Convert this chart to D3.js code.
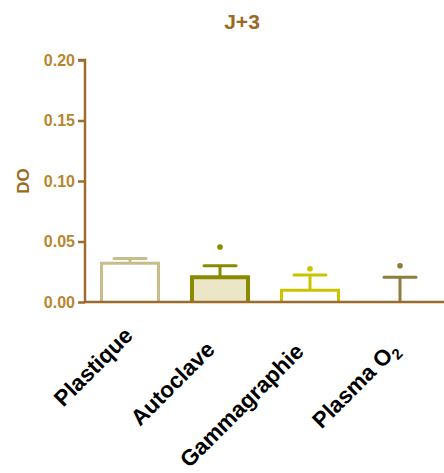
<!DOCTYPE html>
<html>
<head>
<meta charset="utf-8">
<script src="https://cdn.jsdelivr.net/npm/d3@7"></script>
<style>
  html, body { margin: 0; padding: 0; background: #fff; }
  svg { display: block; font-family: "Liberation Sans", Arial, sans-serif; }
</style>
</head>
<body>
<svg id="chart" width="444" height="473"></svg>
<script>
// ---- data ----
const categories = ["Plastique", "Autoclave", "Gammagraphie", "Plasma O2"];
const means      = [0.032, 0.0205, 0.0098, 0.0];
const upperErr   = [0.036, 0.030, 0.0223, 0.0204];
const outliers   = [null, 0.0455, 0.0275, 0.030];
const yTicks     = [0.00, 0.05, 0.10, 0.15, 0.20];
const title      = "J+3";
const yLabel     = "DO";

// ---- styles ----
const strokeCols = ["#c8bd8a", "#8a8a00", "#c9c300", "#8e7d3c"];
const fillCols   = ["none", "#ece6c9", "none", "none"];
const strokeW    = [3, 4, 3, 3];
const axisCol = "#9c6b2e";
const tickLabelCol = "#b8862f";
const labelNudge = [[4, 2], [-4, 16], [-5, 18], [0, 16]];

const svg = d3.select("#chart");
const x = d3.scaleBand().domain(categories).range([85, 445]).paddingInner(1/3).paddingOuter(1/6);
const y = d3.scaleLinear().domain([0, 0.2]).range([302, 60]);

// title
svg.append("text").attr("x", 242).attr("y", 29).attr("text-anchor", "middle")
  .attr("font-size", 21).attr("font-weight", "bold").attr("fill", "#9a6a22").text(title);

// y label
svg.append("text").attr("transform", "translate(29,181) rotate(-90)").attr("text-anchor", "middle")
  .attr("font-size", 17).attr("font-weight", "bold").attr("fill", "#9a6a22").text(yLabel);

const data = categories.map((c, i) => ({c, i, m: means[i], u: upperErr[i], o: outliers[i]}));

// bars (open at the bottom)
svg.selectAll("path.bar").data(data.filter(d => d.m > 0)).join("path")
  .attr("class", "bar")
  .attr("d", d => {
    const h = strokeW[d.i] / 2;
    const x0 = x(d.c) + h, x1 = x(d.c) + x.bandwidth() - h;
    return `M${x0},${y(0)}V${y(d.m)}H${x1}V${y(0)}`;
  })
  .attr("fill", d => fillCols[d.i])
  .attr("stroke", d => strokeCols[d.i])
  .attr("stroke-width", d => strokeW[d.i]);

// error bars
const cx = d => x(d.c) + x.bandwidth() / 2;
svg.selectAll("line.err").data(data).join("line")
  .attr("class", "err")
  .attr("x1", cx).attr("x2", cx)
  .attr("y1", d => y(d.m)).attr("y2", d => y(d.u))
  .attr("stroke", d => strokeCols[d.i]).attr("stroke-width", 3);
svg.selectAll("line.cap").data(data).join("line")
  .attr("class", "cap")
  .attr("x1", d => cx(d) - 16).attr("x2", d => cx(d) + 16)
  .attr("y1", d => y(d.u)).attr("y2", d => y(d.u))
  .attr("stroke", d => strokeCols[d.i]).attr("stroke-width", 3).attr("stroke-linecap", "round");

// outlier dots
svg.selectAll("circle.out").data(data.filter(d => d.o !== null)).join("circle")
  .attr("class", "out")
  .attr("cx", cx).attr("cy", d => y(d.o)).attr("r", 2.8)
  .attr("fill", d => strokeCols[d.i]);

// y axis
const yAxis = d3.axisLeft(y).tickValues(yTicks).tickFormat(d3.format(".2f")).tickSize(7).tickPadding(3);
const gy = svg.append("g").attr("transform", "translate(85,0)").call(yAxis);
gy.select(".domain").attr("stroke", axisCol).attr("stroke-width", 2.5).attr("d", "M-7,60H0V302");
gy.selectAll(".tick line").attr("stroke", axisCol).attr("stroke-width", 2.5);
gy.selectAll(".tick text").attr("fill", tickLabelCol).attr("font-size", 16).attr("font-weight", "bold")
  .attr("font-family", "Liberation Sans, Arial, sans-serif");

// x axis line
svg.append("line").attr("x1", 84).attr("x2", 444).attr("y1", 302).attr("y2", 302)
  .attr("stroke", axisCol).attr("stroke-width", 2.5);

// x labels
const lab = svg.selectAll("text.xl").data(data).join("text")
  .attr("class", "xl")
  .attr("transform", d => `translate(${cx(d) + labelNudge[d.i][0]},${335 + labelNudge[d.i][1]}) rotate(-45)`)
  .attr("text-anchor", "end")
  .attr("font-size", 22.5).attr("font-weight", "bold").attr("fill", "#000");
lab.each(function(d) {
  const t = d3.select(this);
  const m = d.c.match(/^(.*O)(2)$/);
  if (m) {
    t.append("tspan").text(m[1]);
    t.append("tspan").attr("font-size", 15).attr("dy", 5).text(m[2]);
  } else {
    t.text(d.c);
  }
});
</script>
</body>
</html>
